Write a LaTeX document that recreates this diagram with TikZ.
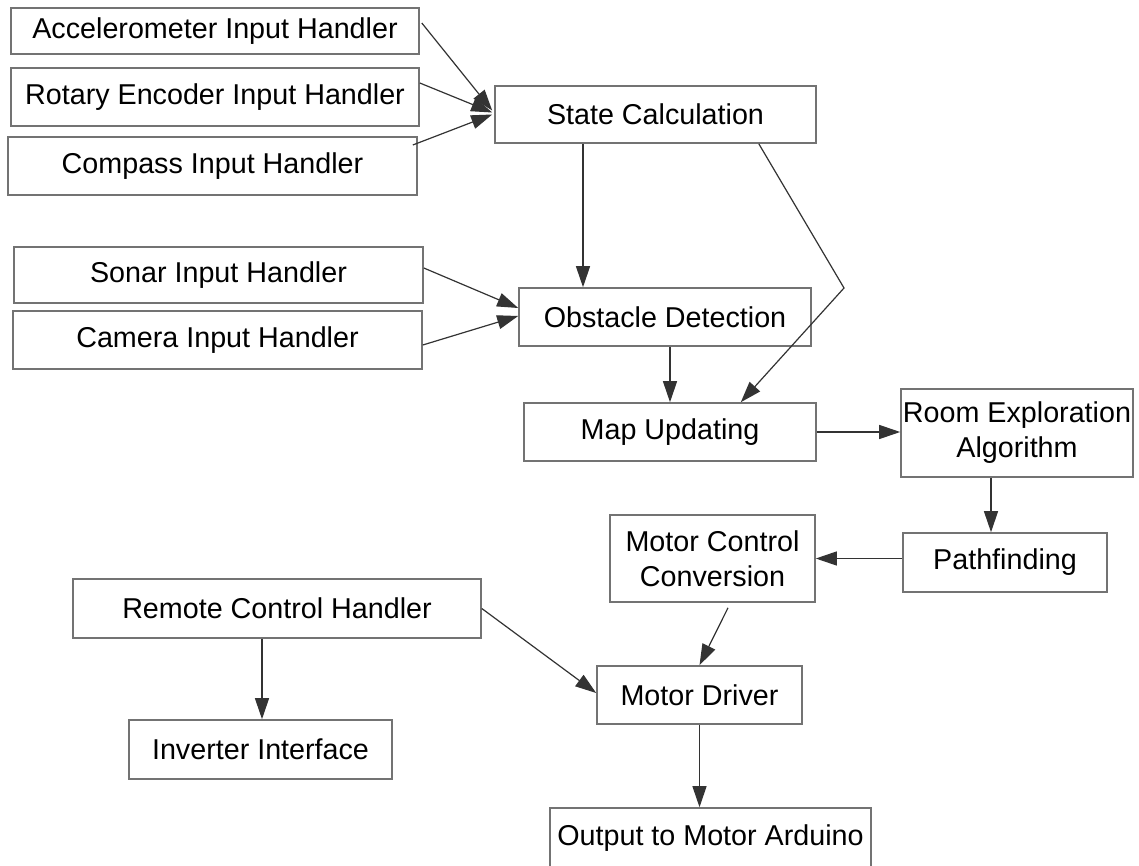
\documentclass[tikz,border=0pt]{standalone}
\usepackage{fontspec}
\setmainfont{Liberation Sans}
\usetikzlibrary{arrows.meta,calc}

\tikzset{
  box/.style={draw=black!55, line width=1.6pt, fill=white, rectangle, inner sep=0pt,
    align=center, font=\fontsize{28.7pt}{35pt}\selectfont},
  link/.style={draw=black!80, line width=1.2pt, -{Triangle[length=21pt,width=14pt]}},
  plain/.style={draw=black!80, line width=1.2pt}
}

\begin{document}
\begin{tikzpicture}[x=1pt,y=-1pt]
\useasboundingbox[fill=white] (0,0) rectangle (1139,866);

% sensor input handlers
\node[box, minimum width=408pt, minimum height=46pt] (acc) at (215,31) {Accelerometer Input Handler};
\node[box, minimum width=408pt, minimum height=58pt] (rot) at (215,97) {Rotary Encoder Input Handler};
\node[box, minimum width=409pt, minimum height=58pt] (comp) at (212.5,166) {Compass Input Handler};
\node[box, minimum width=409pt, minimum height=56pt] (sonar) at (218.5,275) {Sonar Input Handler};
\node[box, minimum width=409pt, minimum height=58pt] (cam) at (217.5,340) {Camera Input Handler};

% processing chain
\node[box, minimum width=321pt, minimum height=57pt] (state) at (655.5,114.5) {State Calculation};
\node[box, minimum width=292pt, minimum height=58pt] (obst) at (665,317) {Obstacle Detection};
\node[box, minimum width=292pt, minimum height=58pt] (map) at (670,432) {Map Updating};
\node[box, minimum width=232pt, minimum height=88pt] (room) at (1017,433) {Room Exploration\\Algorithm};
\node[box, minimum width=204pt, minimum height=59pt] (path) at (1005,562.5) {Pathfinding};
\node[box, minimum width=205pt, minimum height=87pt] (mcc) at (712.5,558.5) {Motor Control\\Conversion};

% motor output and remote control
\node[box, minimum width=408pt, minimum height=59pt] (remote) at (277,608.5) {Remote Control Handler};
\node[box, minimum width=205pt, minimum height=58pt] (md) at (699.5,695) {Motor Driver};
\node[box, minimum width=263pt, minimum height=59pt] (inv) at (260.5,749.5) {Inverter Interface};
\node[box, minimum width=321pt, minimum height=60pt] (out) at (710.5,838) {Output to Motor Arduino};

% connectors into State Calculation
\draw[link] ([xshift=2pt,yshift=8pt]acc.east) -- ([xshift=-2pt,yshift=4pt]state.west);
\draw[link] ([yshift=14pt]rot.east) -- ([xshift=-2pt,yshift=2pt]state.west);
\draw[link] ([xshift=-5pt,yshift=21pt]comp.east) -- ([xshift=-2pt]state.west);

% connectors into Obstacle Detection
\draw[link] ([yshift=7pt]sonar.east) -- ([yshift=9pt]obst.west);
\draw[link] ([yshift=-5pt]cam.east) -- ([yshift=1pt]obst.west);
\coordinate (sdown) at ([xshift=-72.5pt]state.south);
\draw[link] (sdown) -- (sdown |- obst.north);

% State Calculation to Map Updating, routed to the right
\coordinate (sfrom) at ([xshift=-58pt]state.south east);
\coordinate (bend) at (844,288);
\coordinate (mto) at ([xshift=-76pt]map.north east);
\draw[link] (sfrom) -- (bend) -- (mto);

\draw[link] (map.north |- obst.south) -- (map.north);
\draw[link] (map.east) -- (map.east -| room.west);
\coordinate (rdown) at ([xshift=-26pt]room.south);
\draw[link] (rdown) -- (rdown |- path.north);
\draw[link] (mcc.east -| path.west) -- (mcc.east);

% motor side
\coordinate (mfrom) at ([xshift=15.5pt,yshift=-5pt]mcc.south);
\draw[link] (mfrom) -- (md.north);
\draw[link] (remote.east) -- ([yshift=2pt]md.west);
\coordinate (rcdown) at ([xshift=-15pt]remote.south);
\draw[link] (rcdown) -- (rcdown |- inv.north);
\draw[link] (md.south) -- (md.south |- out.north);
\end{tikzpicture}
\end{document}
